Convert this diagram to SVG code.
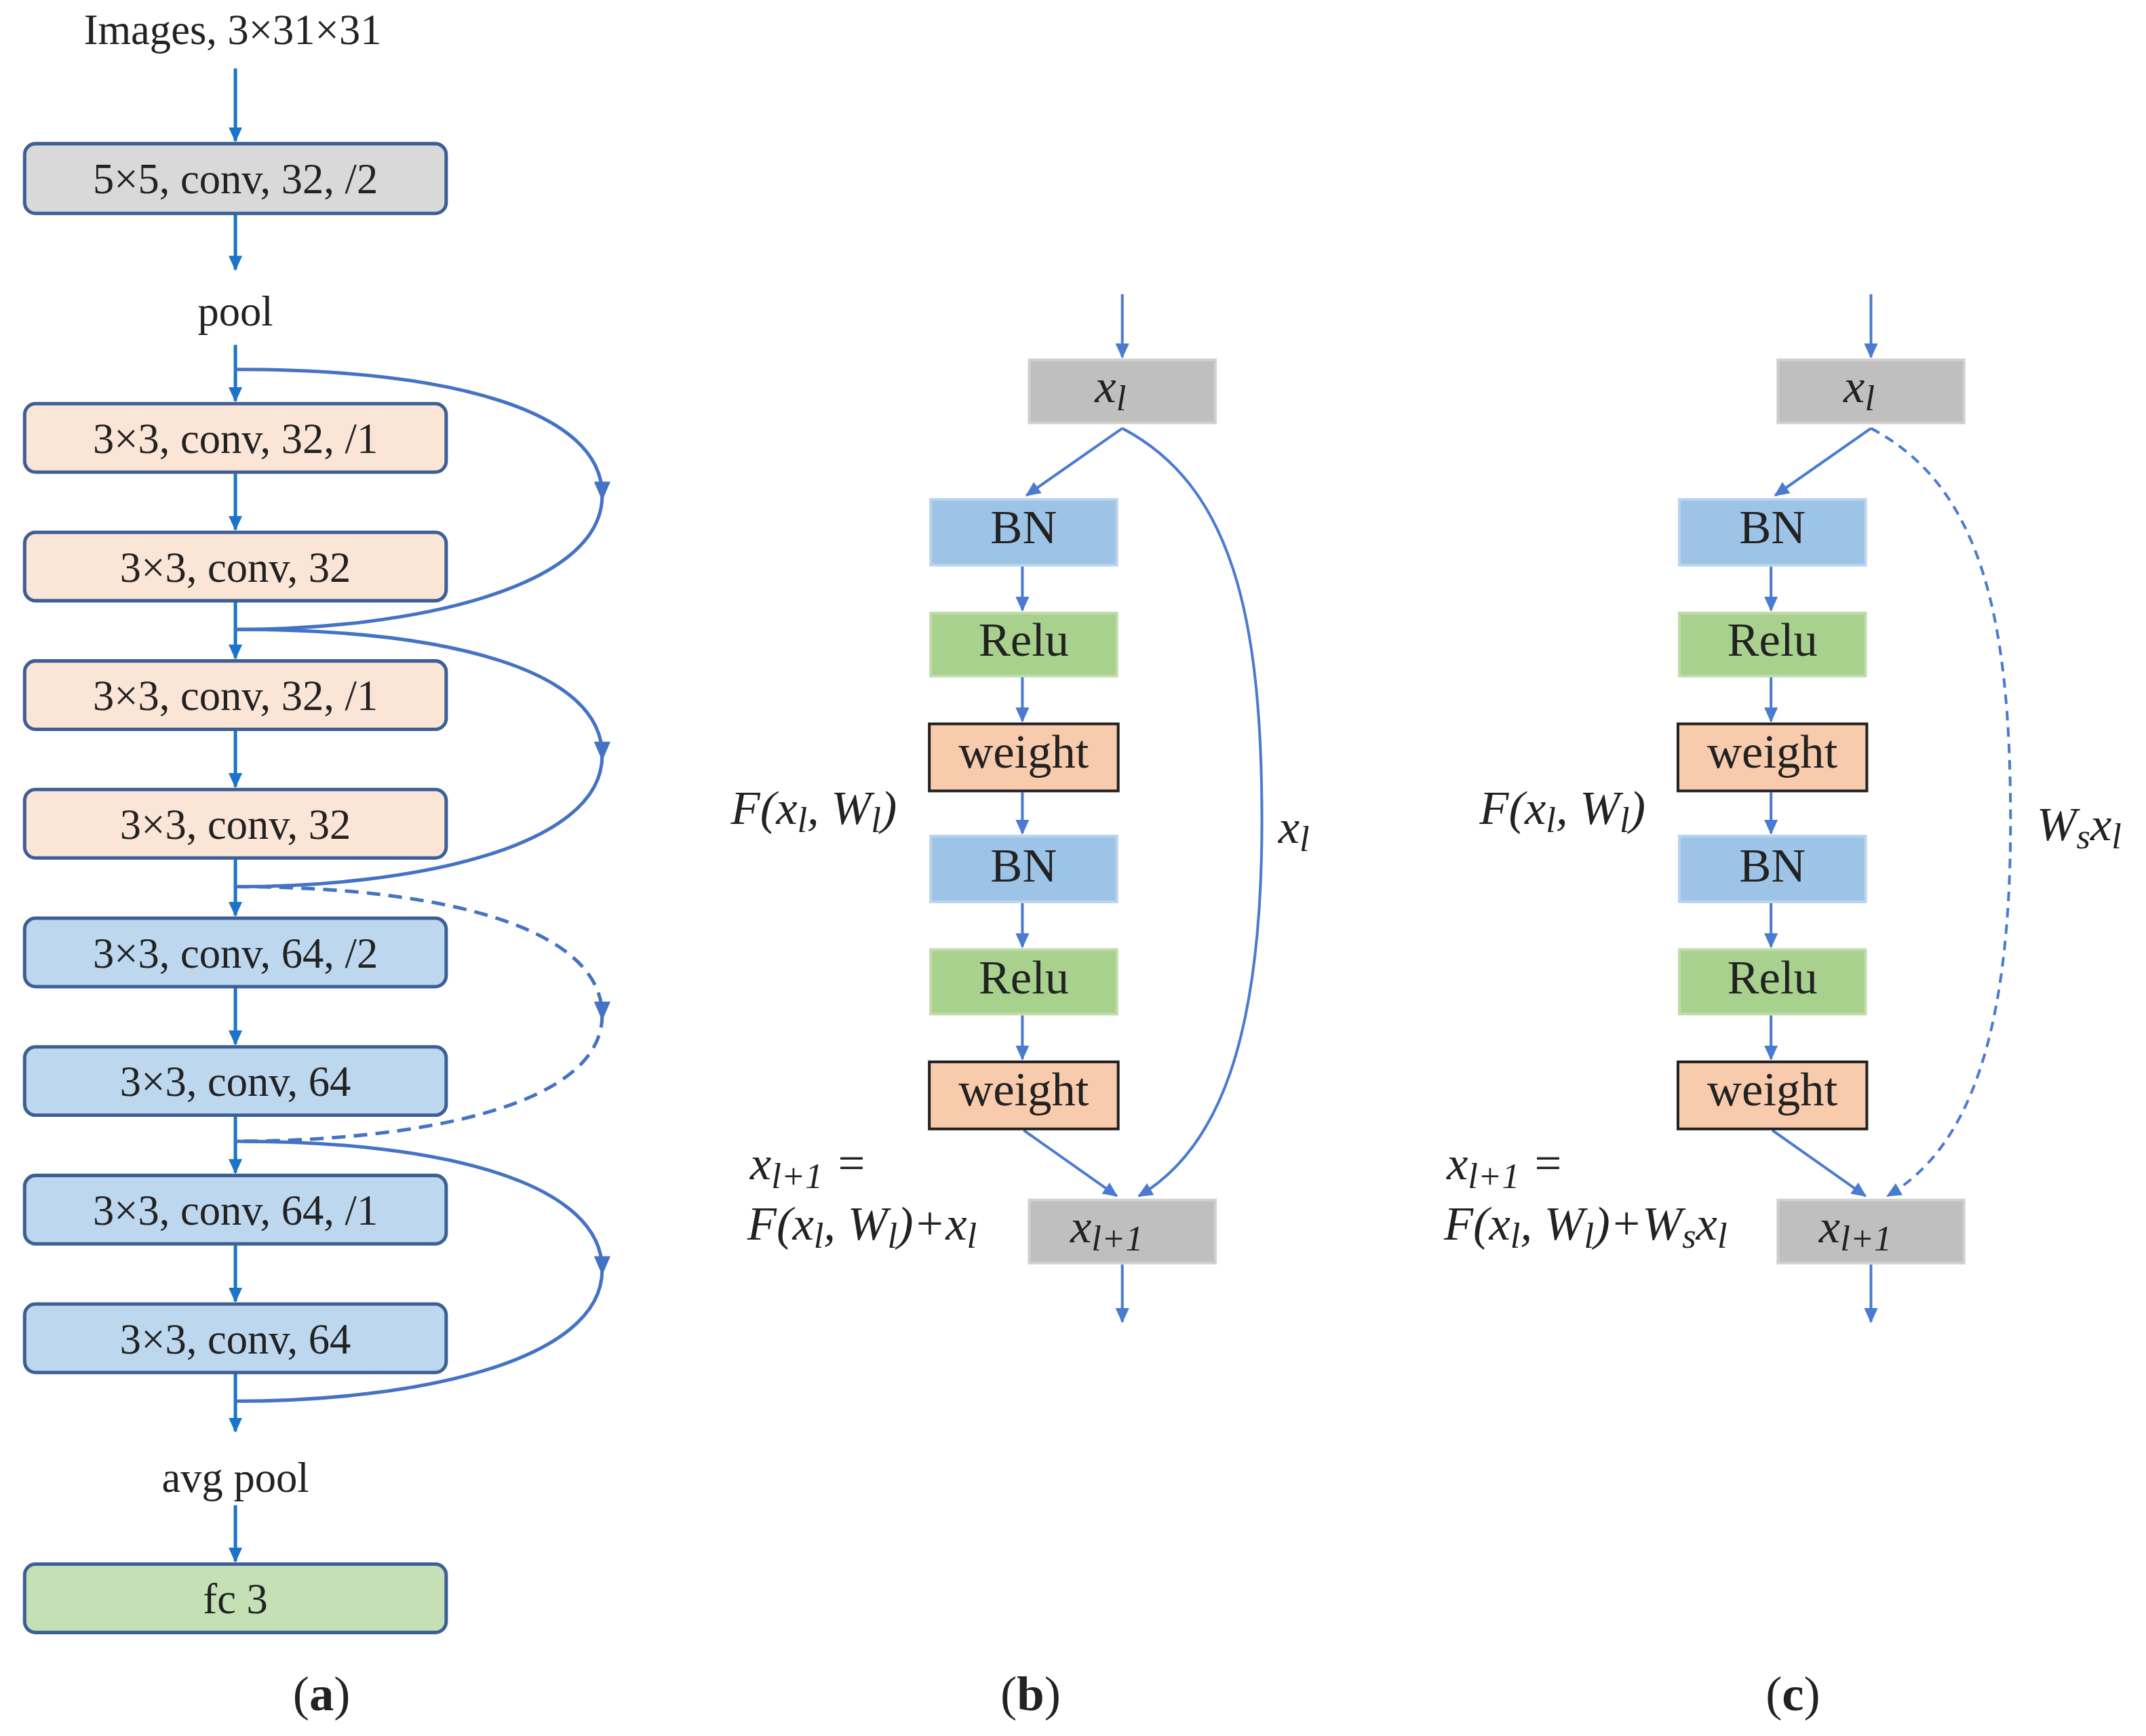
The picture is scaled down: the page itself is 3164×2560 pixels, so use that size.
<svg xmlns="http://www.w3.org/2000/svg" width="3164" height="2560" viewBox="0 0 3164 2560">
<style>
text{font-family:"Liberation Serif","Times New Roman",serif;fill:#222;text-anchor:middle}
.t{font-size:31px}
.m{font-style:italic;font-size:35px;font-family:"Liberation Serif","Times New Roman",serif;text-anchor:start}
.bx{stroke:#3d5f95;stroke-width:2.5}
.ar{stroke:#1a75c9;stroke-width:2.5;fill:none;marker-end:url(#ha)}
.sk{stroke:#4472c4;stroke-width:2.5;fill:none}
.br{stroke:#4a7bd0;stroke-width:2;fill:none;marker-end:url(#hb)}
.b{font-size:35px}
</style>
<defs>
<marker id="ha" markerWidth="12" markerHeight="12" refX="10" refY="6" orient="auto" markerUnits="userSpaceOnUse"><path d="M0,1 L11,6 L0,11 Z" fill="#1a75c9"/></marker>
<marker id="hb" markerWidth="12" markerHeight="12" refX="10" refY="6" orient="auto" markerUnits="userSpaceOnUse"><path d="M0,1 L11,6 L0,11 Z" fill="#4a7bd0"/></marker>
</defs>
<g transform="scale(2.0179)">
<g id="connectors">
<line class="ar" x1="172" y1="50" x2="172" y2="103"/>
<line class="ar" x1="172" y1="157" x2="172" y2="197"/>
<line class="ar" x1="172" y1="252" x2="172" y2="293"/>
<line class="ar" x1="172" y1="346" x2="172" y2="387"/>
<line class="ar" x1="172" y1="440" x2="172" y2="481"/>
<line class="ar" x1="172" y1="534" x2="172" y2="575"/>
<line class="ar" x1="172" y1="628" x2="172" y2="669"/>
<line class="ar" x1="172" y1="722" x2="172" y2="763"/>
<line class="ar" x1="172" y1="816" x2="172" y2="857"/>
<line class="ar" x1="172" y1="910" x2="172" y2="951"/>
<line class="ar" x1="172" y1="1004" x2="172" y2="1046"/>
<line class="ar" x1="172" y1="1100" x2="172" y2="1141"/>
<path class="sk" d="M172,270 C330,270 440,300 440,362 C440,430 300,460 172,460"/>
<path class="sk" d="M172,460 C330,460 440,490 440,552 C440,620 300,648 172,648"/>
<path class="sk" stroke-dasharray="10,6" d="M172,648 C330,648 440,680 440,742 C440,810 300,834 172,834"/>
<path class="sk" d="M172,834 C330,834 440,866 440,928 C440,996 300,1024 172,1024"/>
<path d="M434,352 L440,366 L446,352 Z" fill="#4472c4"/>
<path d="M434,542 L440,556 L446,542 Z" fill="#4472c4"/>
<path d="M434,732 L440,746 L446,732 Z" fill="#4472c4"/>
<path d="M434,918 L440,932 L446,918 Z" fill="#4472c4"/>
<line class="br" x1="820" y1="215" x2="820" y2="261"/>
<line class="br" x1="820" y1="313" x2="750" y2="362"/>
<line class="br" x1="747" y1="414" x2="747" y2="446"/>
<line class="br" x1="747" y1="495" x2="747" y2="527"/>
<line class="br" x1="747" y1="579" x2="747" y2="609"/>
<line class="br" x1="747" y1="660" x2="747" y2="692"/>
<line class="br" x1="747" y1="742" x2="747" y2="774"/>
<line class="br" x1="748" y1="826" x2="816" y2="874"/>
<path class="br" d="M820,313 C900,355 922,450 922,600 C922,760 890,840 832,874"/>
<line class="br" x1="820" y1="924" x2="820" y2="966"/>
<line class="br" x1="1367" y1="215" x2="1367" y2="261"/>
<line class="br" x1="1367" y1="313" x2="1297" y2="362"/>
<line class="br" x1="1294" y1="414" x2="1294" y2="446"/>
<line class="br" x1="1294" y1="495" x2="1294" y2="527"/>
<line class="br" x1="1294" y1="579" x2="1294" y2="609"/>
<line class="br" x1="1294" y1="660" x2="1294" y2="692"/>
<line class="br" x1="1294" y1="742" x2="1294" y2="774"/>
<line class="br" x1="1295" y1="826" x2="1363" y2="874"/>
<path class="br" stroke-dasharray="7,5" d="M1367,313 C1447,355 1469,450 1469,600 C1469,760 1437,840 1379,874"/>
<line class="br" x1="1367" y1="924" x2="1367" y2="966"/>
</g>
<g id="a-input"><text class="t" x="170" y="32">Images, 3×31×31</text></g>
<g id="a-conv5"><rect class="bx" x="18" y="105" width="308" height="51" rx="8" fill="#d9d9d9"/><text class="t" x="172" y="141">5×5, conv, 32, /2</text></g>
<g id="a-pool"><text class="t" x="172" y="238">pool</text></g>
<g id="a-c1"><rect class="bx" x="18" y="295" width="308" height="50" rx="8" fill="#fbe5d6"/><text class="t" x="172" y="331">3×3, conv, 32, /1</text></g>
<g id="a-c2"><rect class="bx" x="18" y="389" width="308" height="50" rx="8" fill="#fbe5d6"/><text class="t" x="172" y="425">3×3, conv, 32</text></g>
<g id="a-c3"><rect class="bx" x="18" y="483" width="308" height="50" rx="8" fill="#fbe5d6"/><text class="t" x="172" y="519">3×3, conv, 32, /1</text></g>
<g id="a-c4"><rect class="bx" x="18" y="577" width="308" height="50" rx="8" fill="#fbe5d6"/><text class="t" x="172" y="613">3×3, conv, 32</text></g>
<g id="a-c5"><rect class="bx" x="18" y="671" width="308" height="50" rx="8" fill="#bdd7ee"/><text class="t" x="172" y="707">3×3, conv, 64, /2</text></g>
<g id="a-c6"><rect class="bx" x="18" y="765" width="308" height="50" rx="8" fill="#bdd7ee"/><text class="t" x="172" y="801">3×3, conv, 64</text></g>
<g id="a-c7"><rect class="bx" x="18" y="859" width="308" height="50" rx="8" fill="#bdd7ee"/><text class="t" x="172" y="895">3×3, conv, 64, /1</text></g>
<g id="a-c8"><rect class="bx" x="18" y="953" width="308" height="50" rx="8" fill="#bdd7ee"/><text class="t" x="172" y="989">3×3, conv, 64</text></g>
<g id="a-avg"><text class="t" x="172" y="1090">avg pool</text></g>
<g id="a-fc"><rect class="bx" x="18" y="1143" width="308" height="50" rx="8" fill="#c5e0b4"/><text class="t" x="172" y="1179">fc 3</text></g>

<g id="b-xl"><rect x="752" y="263" width="136" height="46" fill="#bfbfbf" stroke="#d0d0d0" stroke-width="2"/><text class="m" x="800" y="294">x<tspan font-size="26" dy="6">l</tspan></text></g>
<g id="b-bn1"><rect x="680" y="365" width="136" height="48" fill="#9dc3e6" stroke="#b8d4ee" stroke-width="2"/><text class="b" x="748" y="397">BN</text></g>
<g id="b-relu1"><rect x="680" y="448" width="136" height="46" fill="#a9d18e" stroke="#bfdca9" stroke-width="2"/><text class="b" x="748" y="479">Relu</text></g>
<g id="b-w1"><rect x="679" y="529" width="138" height="49" fill="#f8cbad" stroke="#222" stroke-width="2"/><text class="b" x="748" y="561">weight</text></g>
<g id="b-bn2"><rect x="680" y="611" width="136" height="48" fill="#9dc3e6" stroke="#b8d4ee" stroke-width="2"/><text class="b" x="748" y="644">BN</text></g>
<g id="b-relu2"><rect x="680" y="694" width="136" height="47" fill="#a9d18e" stroke="#bfdca9" stroke-width="2"/><text class="b" x="748" y="726">Relu</text></g>
<g id="b-w2"><rect x="679" y="776" width="138" height="49" fill="#f8cbad" stroke="#222" stroke-width="2"/><text class="b" x="748" y="808">weight</text></g>
<g id="b-xl1"><rect x="752" y="877" width="136" height="46" fill="#bfbfbf" stroke="#d0d0d0" stroke-width="2"/><text class="m" x="782" y="908">x<tspan font-size="26" dy="6">l+1</tspan></text></g>
<g id="b-labels">
<text class="m" x="534" y="602">F(x<tspan font-size="26" dy="6">l</tspan><tspan dy="-6">, W</tspan><tspan font-size="26" dy="6">l</tspan><tspan dy="-6">)</tspan></text>
<text class="m" x="934" y="616">x<tspan font-size="26" dy="6">l</tspan></text>
<text class="m" x="548" y="862">x<tspan font-size="26" dy="6">l+1</tspan><tspan dy="-6"> =</tspan></text>
<text class="m" x="546" y="906">F(x<tspan font-size="26" dy="6">l</tspan><tspan dy="-6">, W</tspan><tspan font-size="26" dy="6">l</tspan><tspan dy="-6">)+x</tspan><tspan font-size="26" dy="6">l</tspan></text>
</g>

<g id="c-xl"><rect x="1299" y="263" width="136" height="46" fill="#bfbfbf" stroke="#d0d0d0" stroke-width="2"/><text class="m" x="1347" y="294">x<tspan font-size="26" dy="6">l</tspan></text></g>
<g id="c-bn1"><rect x="1227" y="365" width="136" height="48" fill="#9dc3e6" stroke="#b8d4ee" stroke-width="2"/><text class="b" x="1295" y="397">BN</text></g>
<g id="c-relu1"><rect x="1227" y="448" width="136" height="46" fill="#a9d18e" stroke="#bfdca9" stroke-width="2"/><text class="b" x="1295" y="479">Relu</text></g>
<g id="c-w1"><rect x="1226" y="529" width="138" height="49" fill="#f8cbad" stroke="#222" stroke-width="2"/><text class="b" x="1295" y="561">weight</text></g>
<g id="c-bn2"><rect x="1227" y="611" width="136" height="48" fill="#9dc3e6" stroke="#b8d4ee" stroke-width="2"/><text class="b" x="1295" y="644">BN</text></g>
<g id="c-relu2"><rect x="1227" y="694" width="136" height="47" fill="#a9d18e" stroke="#bfdca9" stroke-width="2"/><text class="b" x="1295" y="726">Relu</text></g>
<g id="c-w2"><rect x="1226" y="776" width="138" height="49" fill="#f8cbad" stroke="#222" stroke-width="2"/><text class="b" x="1295" y="808">weight</text></g>
<g id="c-xl1"><rect x="1299" y="877" width="136" height="46" fill="#bfbfbf" stroke="#d0d0d0" stroke-width="2"/><text class="m" x="1329" y="908">x<tspan font-size="26" dy="6">l+1</tspan></text></g>
<g id="c-labels">
<text class="m" x="1081" y="602">F(x<tspan font-size="26" dy="6">l</tspan><tspan dy="-6">, W</tspan><tspan font-size="26" dy="6">l</tspan><tspan dy="-6">)</tspan></text>
<text class="m" x="1488" y="614">W<tspan font-size="26" dy="6">s</tspan><tspan dy="-6">x</tspan><tspan font-size="26" dy="6">l</tspan></text>
<text class="m" x="1057" y="862">x<tspan font-size="26" dy="6">l+1</tspan><tspan dy="-6"> =</tspan></text>
<text class="m" x="1055" y="906">F(x<tspan font-size="26" dy="6">l</tspan><tspan dy="-6">, W</tspan><tspan font-size="26" dy="6">l</tspan><tspan dy="-6">)+W</tspan><tspan font-size="26" dy="6">s</tspan><tspan dy="-6">x</tspan><tspan font-size="26" dy="6">l</tspan></text>
</g>
<g id="captions">
<text x="235" y="1250" font-size="36">(<tspan font-weight="bold">a</tspan>)</text>
<text x="753" y="1250" font-size="36">(<tspan font-weight="bold">b</tspan>)</text>
<text x="1310" y="1250" font-size="36">(<tspan font-weight="bold">c</tspan>)</text>
</g>
</g>
</svg>
